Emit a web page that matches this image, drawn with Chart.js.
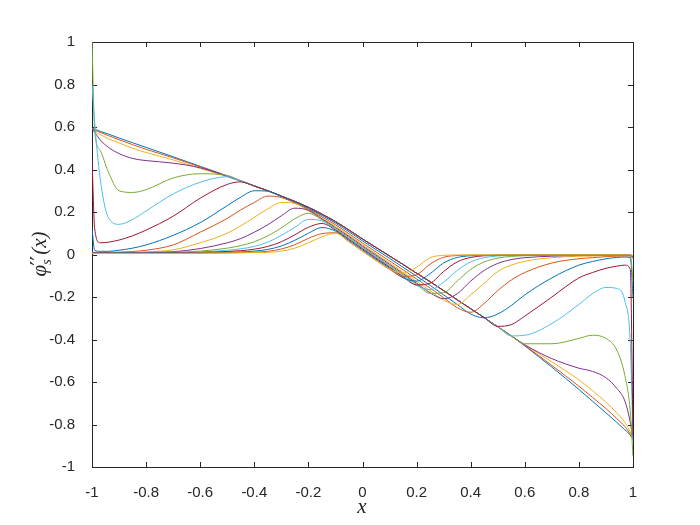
<!DOCTYPE html>
<html>
<head>
<meta charset="utf-8">
<script src="https://cdn.jsdelivr.net/npm/chart.js@4"></script>
<style>
html, body { margin: 0; padding: 0; background: #fff; }
</style>
</head>
<body>
<canvas id="myChart" width="700" height="525"></canvas>
<script>
// sample positions along x
const xs = [-1, -0.99, -0.97, -0.94, -0.9, -0.85, -0.8, -0.7, -0.6, -0.5, -0.45, -0.4, -0.35, -0.3, -0.25, -0.2, -0.15, -0.1, -0.05, 0,
	0.05, 0.1, 0.15, 0.2, 0.25, 0.3, 0.35, 0.4, 0.45, 0.5, 0.55, 0.6, 0.7, 0.8, 0.85, 0.9, 0.94, 0.97, 0.99, 1]

const c1 = [0.594, 0.59, 0.58, 0.567, 0.548, 0.526, 0.504, 0.46, 0.415, 0.37, 0.347, 0.323, 0.30, 0.275, 0.25, 0.222, 0.19, 0.155, 0.115, 0.073,
	0.033, -0.007, -0.047, -0.088, -0.128, -0.17, -0.213, -0.255, -0.297, -0.34, -0.383, -0.43, -0.53, -0.635, -0.69, -0.745, -0.79, -0.825, -0.85, -0.87]
const c2 = [0.594, 0.585, 0.575, 0.56, 0.54, 0.517, 0.495, 0.455, 0.412, 0.369, 0.346, 0.323, 0.30, 0.275, 0.25, 0.222, 0.19, 0.155, 0.115, 0.073,
	0.033, -0.007, -0.047, -0.088, -0.128, -0.17, -0.213, -0.255, -0.297, -0.34, -0.383, -0.428, -0.522, -0.62, -0.672, -0.725, -0.772, -0.81, -0.845, -0.87]
const c3 = [0.594, 0.578, 0.565, 0.545, 0.525, 0.50, 0.48, 0.445, 0.405, 0.366, 0.345, 0.323, 0.30, 0.275, 0.25, 0.222, 0.19, 0.155, 0.115, 0.073,
	0.033, -0.007, -0.047, -0.088, -0.128, -0.17, -0.213, -0.255, -0.297, -0.34, -0.383, -0.425, -0.505, -0.59, -0.64, -0.695, -0.745, -0.79, -0.835, -0.87]
const c4 = [0.594, 0.575, 0.54, 0.505, 0.475, 0.452, 0.442, 0.43, 0.408, 0.368, 0.346, 0.323, 0.30, 0.275, 0.25, 0.222, 0.19, 0.155, 0.115, 0.073,
	0.033, -0.007, -0.047, -0.088, -0.128, -0.17, -0.213, -0.255, -0.297, -0.34, -0.383, -0.425, -0.49, -0.535, -0.55, -0.58, -0.63, -0.69, -0.79, -0.87]
const c5 = [1.0, 0.58, 0.49, 0.39, 0.30, 0.292, 0.305, 0.36, 0.38, 0.372, 0.347, 0.323, 0.30, 0.275, 0.25, 0.222, 0.19, 0.155, 0.115, 0.073,
	0.033, -0.007, -0.047, -0.088, -0.128, -0.17, -0.213, -0.255, -0.297, -0.34, -0.383, -0.42, -0.42, -0.395, -0.38, -0.395, -0.45, -0.57, -0.74, -0.95]
const c6 = [0.80, 0.62, 0.36, 0.175, 0.142, 0.165, 0.205, 0.285, 0.34, 0.366, 0.347, 0.323, 0.30, 0.275, 0.25, 0.222, 0.19, 0.155, 0.115, 0.073,
	0.033, -0.007, -0.047, -0.088, -0.128, -0.17, -0.213, -0.255, -0.297, -0.34, -0.383, -0.38, -0.325, -0.235, -0.185, -0.155, -0.16, -0.22, -0.42, -0.87]
const c7 = [0.45, 0.12, 0.055, 0.058, 0.068, 0.088, 0.115, 0.18, 0.265, 0.33, 0.342, 0.322, 0.30, 0.275, 0.25, 0.222, 0.19, 0.155, 0.115, 0.073,
	0.033, -0.007, -0.047, -0.088, -0.128, -0.17, -0.213, -0.255, -0.297, -0.338, -0.33, -0.29, -0.2, -0.11, -0.085, -0.065, -0.055, -0.05, -0.07, -0.85]
const c8 = [0.12, 0.02, 0.015, 0.015, 0.02, 0.03, 0.045, 0.09, 0.15, 0.23, 0.27, 0.3, 0.298, 0.272, 0.246, 0.217, 0.184, 0.148, 0.107, 0.064,
	0.023, -0.018, -0.06, -0.102, -0.145, -0.19, -0.235, -0.28, -0.298, -0.28, -0.24, -0.19, -0.11, -0.05, -0.033, -0.02, -0.014, -0.012, -0.015, -0.2]
const c9 = [0.012, 0.01, 0.01, 0.01, 0.011, 0.014, 0.02, 0.045, 0.105, 0.17, 0.21, 0.245, 0.275, 0.268, 0.242, 0.212, 0.177, 0.14, 0.098, 0.054,
	0.012, -0.03, -0.072, -0.115, -0.158, -0.203, -0.25, -0.272, -0.23, -0.17, -0.12, -0.085, -0.04, -0.02, -0.015, -0.01, -0.008, -0.007, -0.007, -0.02]
const c10 = [0.01, 0.009, 0.009, 0.009, 0.009, 0.01, 0.012, 0.022, 0.055, 0.1, 0.135, 0.175, 0.215, 0.245, 0.24, 0.205, 0.17, 0.133, 0.09, 0.046,
	0.003, -0.04, -0.083, -0.127, -0.17, -0.215, -0.235, -0.19, -0.135, -0.08, -0.05, -0.032, -0.015, -0.008, -0.007, -0.006, -0.006, -0.006, -0.006, -0.01]
const c11 = [0.009, 0.008, 0.008, 0.008, 0.008, 0.009, 0.01, 0.013, 0.028, 0.055, 0.075, 0.105, 0.14, 0.182, 0.218, 0.208, 0.168, 0.127, 0.085, 0.04,
	-0.003, -0.046, -0.09, -0.135, -0.18, -0.208, -0.185, -0.125, -0.075, -0.042, -0.024, -0.015, -0.008, -0.005, -0.005, -0.005, -0.005, -0.005, -0.005, -0.01]
const c12 = [0.009, 0.008, 0.008, 0.008, 0.008, 0.008, 0.009, 0.011, 0.016, 0.03, 0.042, 0.06, 0.088, 0.125, 0.168, 0.194, 0.163, 0.122, 0.08, 0.035,
	-0.008, -0.052, -0.095, -0.14, -0.183, -0.18, -0.125, -0.07, -0.035, -0.017, -0.009, -0.006, -0.004, -0.004, -0.004, -0.004, -0.004, -0.004, -0.005, -0.12]
const c13 = [0.008, 0.007, 0.007, 0.007, 0.007, 0.007, 0.008, 0.009, 0.012, 0.02, 0.027, 0.038, 0.058, 0.09, 0.128, 0.165, 0.158, 0.118, 0.076, 0.032,
	-0.012, -0.056, -0.1, -0.145, -0.165, -0.13, -0.075, -0.035, -0.015, -0.007, -0.005, -0.004, -0.004, -0.004, -0.004, -0.004, -0.004, -0.004, -0.004, -0.01]
const c14 = [0.008, 0.007, 0.007, 0.007, 0.007, 0.007, 0.007, 0.008, 0.01, 0.014, 0.018, 0.025, 0.038, 0.06, 0.093, 0.128, 0.146, 0.115, 0.071, 0.027,
	-0.017, -0.06, -0.105, -0.143, -0.135, -0.08, -0.035, -0.014, -0.006, -0.004, -0.003, -0.003, -0.003, -0.003, -0.003, -0.003, -0.003, -0.003, -0.003, -0.01]
const c15 = [0.007, 0.006, 0.006, 0.006, 0.006, 0.006, 0.006, 0.007, 0.008, 0.01, 0.012, 0.016, 0.024, 0.04, 0.067, 0.1, 0.127, 0.11, 0.066, 0.022,
	-0.022, -0.065, -0.11, -0.125, -0.09, -0.04, -0.014, -0.006, -0.004, -0.003, -0.003, -0.003, -0.003, -0.003, -0.003, -0.003, -0.003, -0.003, -0.003, -0.008]
const c16 = [0.006, 0.005, 0.005, 0.005, 0.005, 0.005, 0.005, 0.006, 0.007, 0.008, 0.009, 0.011, 0.015, 0.026, 0.046, 0.076, 0.098, 0.102, 0.06, 0.016,
	-0.028, -0.07, -0.103, -0.095, -0.045, -0.013, -0.005, -0.003, -0.003, -0.003, -0.003, -0.003, -0.003, -0.003, -0.003, -0.003, -0.003, -0.003, -0.003, -0.006]
const c17 = [0.006, 0.005, 0.005, 0.005, 0.005, 0.005, 0.005, 0.005, 0.006, 0.007, 0.008, 0.009, 0.01, 0.016, 0.03, 0.055, 0.083, 0.1, 0.06, 0.015,
	-0.028, -0.068, -0.088, -0.06, -0.015, -0.004, -0.002, -0.002, -0.002, -0.002, -0.002, -0.002, -0.002, -0.002, -0.002, -0.002, -0.002, -0.002, -0.002, -0.005]

const curves = [c1, c2, c3, c4, c5, c6, c7, c8, c9, c10, c11, c12, c13, c14, c15, c16, c17]

const tickVals = [-1, -0.8, -0.6, -0.4, -0.2, 0, 0.2, 0.4, 0.6, 0.8, 1]
const tickLabels = ['-1', '-0.8', '-0.6', '-0.4', '-0.2', '0', '0.2', '0.4', '0.6', '0.8', '1']

// matlab default line colours
const palette = ['#0072BD', '#D95319', '#EDB120', '#7E2F8E', '#77AC30', '#4DBEEE', '#A2142F']
const axisColor = '#262626'

const datasets = curves.map((ys, i) => ({
	data: ys.map((y, j) => ({ x: xs[j], y: y })),
	borderColor: palette[i % palette.length],
	borderWidth: 1,
	pointRadius: 0,
	fill: false,
	cubicInterpolationMode: 'monotone',
	order: curves.length - i
}))

const boxPlugin = {
	id: 'box',
	beforeDatasetsDraw(chart) {
		const ctx = chart.ctx
		const a = chart.chartArea
		const sx = chart.scales.x, sy = chart.scales.y
		ctx.save()
		ctx.strokeStyle = axisColor
		ctx.lineWidth = 1
		ctx.beginPath()
		for (const v of tickVals) {
			const px = Math.round(sx.getPixelForValue(v)) + 0.5
			ctx.moveTo(px, a.bottom); ctx.lineTo(px, a.bottom - 5)
			ctx.moveTo(px, a.top); ctx.lineTo(px, a.top + 5)
			const py = Math.round(sy.getPixelForValue(v)) + 0.5
			ctx.moveTo(a.left, py); ctx.lineTo(a.left + 5, py)
			ctx.moveTo(a.right, py); ctx.lineTo(a.right - 5, py)
		}
		ctx.stroke()
		ctx.strokeRect(a.left + 0.5, a.top + 0.5, a.right - a.left, a.bottom - a.top)
		ctx.restore()
	},
	afterDraw(chart) {
		const ctx = chart.ctx
		const big = 'italic 21px "Liberation Serif"'
		const small = 'italic 14px "Liberation Serif"'
		const prime = '22px "DejaVu Sans"'
		ctx.save()
		ctx.fillStyle = axisColor
		// x label
		ctx.font = big
		ctx.textAlign = 'center'
		ctx.textBaseline = 'alphabetic'
		ctx.fillText('x', 362, 513)
		// y label, rotated
		ctx.translate(46, 254)
		ctx.rotate(-Math.PI / 2)
		ctx.textAlign = 'left'
		ctx.font = big
		const wPhi = ctx.measureText('\u03C6').width
		const wPar = ctx.measureText('(x)').width
		ctx.font = prime
		const wPrime = ctx.measureText('\u2032\u2032').width
		const total = wPhi + wPrime + wPar
		let x0 = -total / 2
		ctx.font = big
		ctx.fillText('\u03C6', x0, 0)
		x0 += wPhi
		ctx.font = prime
		ctx.fillText('\u2032\u2032', x0 - 1, 0)
		ctx.font = small
		ctx.fillText('s', x0, 5)
		x0 += wPrime
		ctx.font = big
		ctx.fillText('(x)', x0, 0)
		ctx.restore()
	}
}

const tickFont = { family: '"Liberation Sans", Arial, sans-serif', size: 15 }

const ctx = document.getElementById('myChart')
var chart = new Chart(ctx, {
	type: 'line',
	data: { datasets: datasets },
	options: {
		responsive: false,
		animation: false,
		layout: { padding: { top: 42, right: 67, left: 0, bottom: 0 } },
		plugins: { legend: { display: false }, tooltip: { enabled: false } },
		scales: {
			x: {
				type: 'linear',
				min: -1,
				max: 1,
				grid: { display: false },
				border: { display: false },
				afterBuildTicks: s => { s.ticks = tickVals.map(v => ({ value: v })) },
				afterFit: s => { s.height = 58 },
				ticks: {
					autoSkip: false,
					maxRotation: 0,
					padding: 9,
					color: axisColor,
					font: tickFont,
					callback: (v, i) => tickLabels[i]
				}
			},
			y: {
				type: 'linear',
				min: -1,
				max: 1,
				grid: { display: false },
				border: { display: false },
				afterBuildTicks: s => { s.ticks = tickVals.map(v => ({ value: v })) },
				afterFit: s => { s.width = 92 },
				ticks: {
					autoSkip: false,
					padding: 9,
					color: axisColor,
					font: tickFont,
					callback: (v, i) => tickLabels[i]
				}
			}
		}
	},
	plugins: [boxPlugin]
})
</script>
</body>
</html>
